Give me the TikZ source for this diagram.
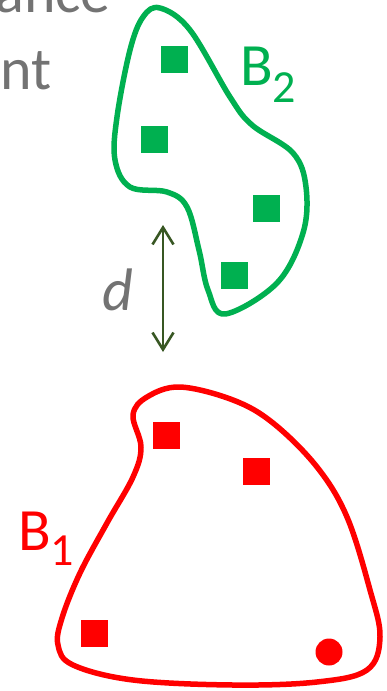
\documentclass[tikz,border=0pt]{standalone}
\usepackage{fontspec}
\setmainfont{Carlito}
\usetikzlibrary{arrows.meta}
\definecolor{txtgray}{RGB}{115,115,115}
\definecolor{bgreen}{RGB}{0,176,80}
\definecolor{dgreen}{RGB}{56,87,35}
\definecolor{bred}{RGB}{255,0,0}
\tikzset{
  txt/.style={inner sep=0pt, font=\fontsize{60}{72}\selectfont},
  blob/.style={line width=5.5pt, line join=round},
  pt/.style={minimum size=27pt, inner sep=0pt, draw=none},
  barb/.tip={Straight Barb[length=17pt,width=21pt,line width=2.6pt]},
}
\begin{document}
\begin{tikzpicture}[x=1pt, y=-1pt]
\useasboundingbox (0,0) rectangle (386,691);
\clip (0,0) rectangle (386,691);

% heading fragments
\node[txt, text=txtgray, anchor=base east] (t1) at (111,12) {ance};
\node[txt, text=txtgray, anchor=base west] (t2) at (0,89) {nt};

% cluster B2
\draw[blob, bgreen] plot[smooth cycle, tension=0.6] coordinates {
  (160,8) (190,30) (230,97) (252,125) (293,153) (306,187) (303,233)
  (277,283) (225,314) (208,290) (199,250) (187,207) (167,192) (130,187)
  (115,160) (117,117) (130,50) (143,17)};
\node[pt, fill=bgreen] (g1) at (174.5,59.5) {};
\node[pt, fill=bgreen] (g2) at (154.5,139.5) {};
\node[pt, fill=bgreen] (g3) at (266.5,208.5) {};
\node[pt, fill=bgreen] (g4) at (234.5,275) {};
\node[txt, text=bgreen, anchor=base west] (lb2) at (240,85)
  {B\raisebox{-17pt}{\fontsize{46}{50}\selectfont 2}};

% cluster B1
\draw[blob, bred] plot[smooth cycle, tension=0.6] coordinates {
  (133,415) (147,397) (180,387) (233,400) (273,423) (317,467) (347,517)
  (370,590) (380,637) (367,670) (317,682) (233,685) (133,680) (73,665)
  (58,645) (62,618) (80,573) (107,523) (133,477) (141,447)};
\node[pt, fill=bred] (r1) at (166.5,435.5) {};
\node[pt, fill=bred] (r2) at (256.5,471.5) {};
\node[pt, fill=bred] (r3) at (94.5,633.5) {};
\node[circle, fill=bred, minimum size=27pt, inner sep=0pt] (r4) at (329,652) {};
\node[txt, text=bred, anchor=base west] (lb1) at (18,550)
  {B\raisebox{-15pt}{\fontsize{46}{50}\selectfont 1}};

% distance between the clusters
\coordinate (dtop) at (163,225);
\coordinate (dbot) at (163,352);
\draw[dgreen, line width=2.6pt, barb-barb] (dtop) -- (dbot);
\node[txt, text=txtgray, anchor=base west] (dl) at (102,310) {\itshape d};
\end{tikzpicture}
\end{document}
